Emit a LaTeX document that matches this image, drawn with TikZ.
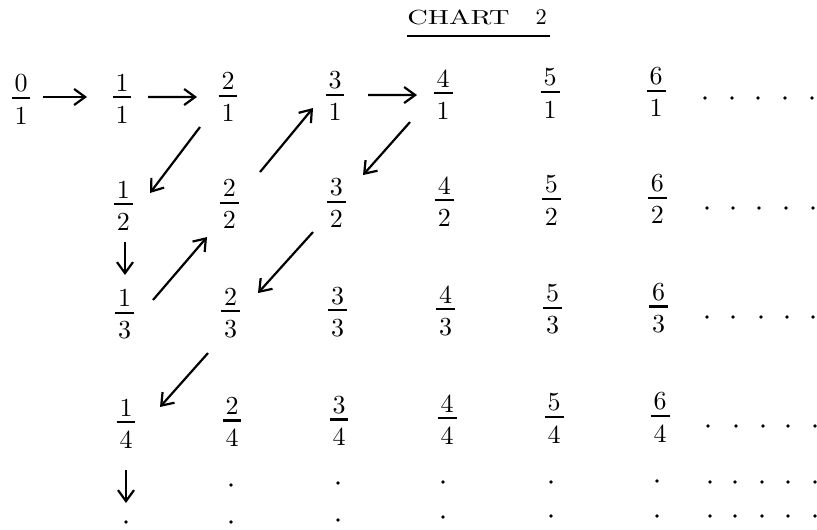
\documentclass[tikz,border=0pt]{standalone}
\usepackage{graphicx}
\usetikzlibrary{arrows.meta,calc}
\newcommand\fr[2]{\scalebox{1.3}{\vbox{\hbox to 7.3pt{\hss#1\hss}\kern1.8pt\hrule height 0.8pt\kern3pt\hbox to 7.3pt{\hss#2\hss}}}}
\begin{document}
\begin{tikzpicture}[x=0.5pt,y=-0.5pt,
  frac/.style={inner sep=0pt},
  arr/.style={line width=1.1pt,-{Straight Barb[length=5.5pt,width=8pt]}},
  dotm/.style={fill=black,draw=none}]
\useasboundingbox (0,0) rectangle (817,529);
% title
\node[inner sep=0pt,anchor=base west] (title) at (407,25)
  {\scalebox{1.42}[1.02]{CHART}\hspace{13pt}\scalebox{1.12}{2}};
\draw[line width=1.1pt] ($(title.base west)+(0,11)$) -- ($(title.base east)+(3,11)$);
% fractions (centre = bar + 1.5)
\node[frac] (n01) at (21,99.5) {\fr{0}{1}};
\foreach \c/\cx in {1/122,2/228,3/335,4/443,5/550,6/656}{
  \foreach \r/\ry/\xs in {1/97/0,2/204/1.3,3/313/2.7,4/422/4}{
    \pgfmathsetmacro\nx{\cx+\xs}
    \pgfmathsetmacro\ny{\ry-0.012*(\cx-122)+1.5}
    \node[frac] (n\c\r) at (\nx,\ny) {\fr{\c}{\r}};
  }
}
% trailing dots
\foreach \y/\xa/\xb/\xc/\xd/\xe in {98/705/732/758/785/812,208/707/733/759/786/813,317/707/733/761/787/813,426/708/736/763/788/815,482/710/735/762/788/815,516/710/735/762/788/815}{
  \foreach \x in {\xa,\xb,\xc,\xd,\xe}{
    \fill[dotm] (\x,\y) circle (1.8);
  }
}
\foreach \x/\ya/\yb in {231/485/522,338/483/520,443/482/517,551/482/516,657/481/516}{
  \fill[dotm] (\x,\ya) circle (1.8);
  \fill[dotm] (\x,\yb) circle (1.8);
}
\fill[dotm] (126,522) circle (1.8);
% arrows
\draw[arr] ($(n01)+(22,-2.5)$) -- ($(n11)+(-35,-1.5)$);
\draw[arr] ($(n11)+(26,-1.5)$) -- ($(n21)+(-31,-0.2)$);
\draw[arr] ($(n21)+(-28,29.8)$) -- ($(n12)+(26.7,-12.5)$);
\draw[arr] ($(n12)+(1.7,36.5)$) -- ($(n13)+(0.3,-39.5)$);
\draw[arr] ($(n13)+(28.3,-14.5)$) -- ($(n22)+(-22.3,32.8)$);
\draw[arr] ($(n22)+(30.7,-32.2)$) -- ($(n31)+(-22,12.1)$);
\draw[arr] ($(n31)+(33,-0.9)$) -- ($(n41)+(-26,0.4)$);
\draw[arr] ($(n41)+(-33,27.4)$) -- ($(n32)+(26.7,-27.9)$);
\draw[arr] ($(n32)+(-23.3,29.1)$) -- ($(n23)+(27.3,-20.2)$);
\draw[arr] ($(n23)+(-22.7,39.8)$) -- ($(n14)+(34,-16.5)$);
\coordinate (down) at ($(n14)+(0,79.5)$);
\draw[arr] ($(n14)+(0,46.5)$) -- (down);
\end{tikzpicture}
\end{document}
